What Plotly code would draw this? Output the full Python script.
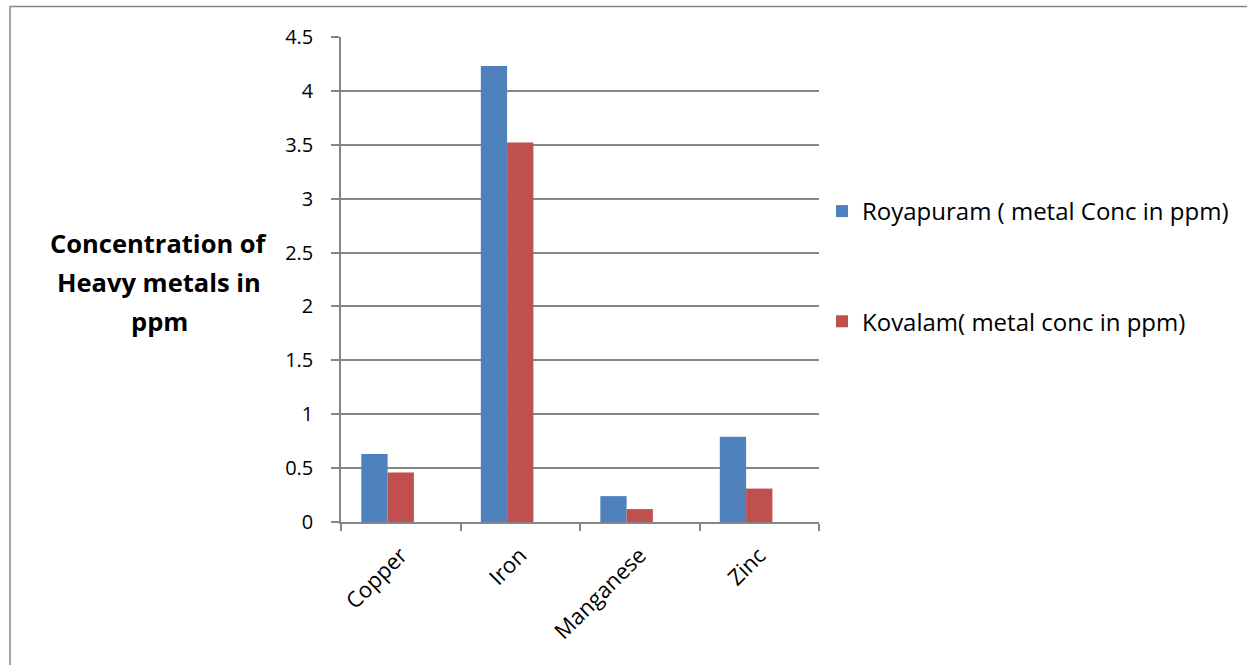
import plotly.graph_objects as go

# Heavy metal concentrations (ppm) at two sampling sites
metals = ["Copper", "Iron", "Manganese", "Zinc"]
royapuram = [0.63, 4.23, 0.24, 0.79]
kovalam = [0.46, 3.52, 0.12, 0.31]
series_names = ["Royapuram ( metal Conc in ppm)", "Kovalam( metal conc in ppm)"]
y_ticks = [0, 0.5, 1, 1.5, 2, 2.5, 3, 3.5, 4, 4.5]
y_tick_text = ["0", "0.5", "1", "1.5", "2", "2.5", "3", "3.5", "4", "4.5"]
y_title_lines = ["Concentration of", "Heavy metals in", "ppm"]

W, H = 1247, 665
ml, mr, mt, mb = 341, 428, 37, 143
FONT = "Open Sans"
GRID = "#868686"

# bar slots laid out as for three series per category (third slot left empty)
BAR_W = 0.22
OFFSETS = [-0.33, -0.11]

fig = go.Figure()
fig.add_trace(go.Bar(x=metals, y=royapuram, name=series_names[0],
                     marker=dict(color="#4F81BD", line=dict(width=0)),
                     width=BAR_W, offset=OFFSETS[0], legendgroup="a"))
fig.add_trace(go.Bar(x=metals, y=kovalam, name=series_names[1],
                     marker=dict(color="#C0504D", line=dict(width=0)),
                     width=BAR_W, offset=OFFSETS[1], legendgroup="b"))

pw = W - ml - mr
ph = H - mt - mb

def px_x(p):
    return (p - ml) / pw

def px_y(p):
    return (H - mb - p) / ph

annotations = []
for i, line in enumerate(y_title_lines):
    annotations.append(dict(
        text="<b>%s</b>" % line, x=px_x(159), y=px_y(243 + 39 * i),
        xref="paper", yref="paper", showarrow=False,
        xanchor="center", yanchor="middle",
        font=dict(family=FONT, size=25.5, color="#000000")))

fig.update_layout(
    width=W, height=H,
    margin=dict(l=ml, r=mr, t=mt, b=mb),
    paper_bgcolor="white", plot_bgcolor="white",
    barmode="overlay",
    font=dict(family=FONT, size=20, color="#000000"),
    showlegend=True,
    legend=dict(x=px_x(822), y=px_y(189), xanchor="left", yanchor="top",
                traceorder="grouped", tracegroupgap=76,
                font=dict(family=FONT, size=24, color="#000000"),
                bgcolor="rgba(0,0,0,0)"),
    annotations=annotations,
    shapes=[dict(type="rect", xref="paper", yref="paper",
                 x0=px_x(10), x1=px_x(1260), y0=px_y(6.5), y1=px_y(680),
                 line=dict(color=GRID, width=1.5), layer="below")],
)

fig.update_xaxes(
    type="category", tickson="boundaries", ticks="outside", ticklen=7,
    tickcolor=GRID, tickwidth=1.5, showline=True, linecolor=GRID, linewidth=1.5,
    showgrid=False, tickangle=-45, tickfont=dict(family=FONT, size=22),
    ticklabelstandoff=10,
)
fig.update_yaxes(
    range=[0, 4.5], tickvals=y_ticks, ticktext=y_tick_text,
    ticks="outside", ticklen=8, tickcolor=GRID, tickwidth=1.5,
    showline=True, linecolor=GRID, linewidth=1.5,
    showgrid=True, gridcolor=GRID, gridwidth=1.5, zeroline=False,
    tickfont=dict(family=FONT, size=20), ticklabelstandoff=14,
)

fig.write_html("out.html")
